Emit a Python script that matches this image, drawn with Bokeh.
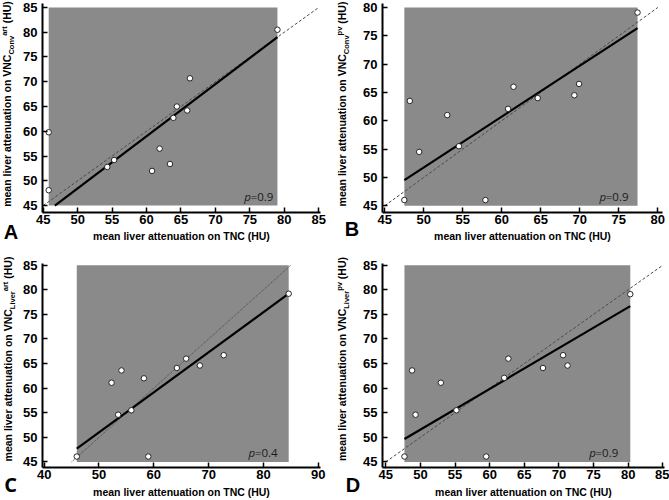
from bokeh.embed import file_html
from bokeh.layouts import column, row
from bokeh.models import Div, FixedTicker, Label, Range1d
from bokeh.plotting import figure
from bokeh.resources import INLINE

# ---- data: mean liver attenuation (HU), TNC vs. virtual non-contrast ----
tnc_a = [45.8, 45.8, 54.3, 55.3, 60.8, 61.9, 63.4, 63.9, 64.4, 65.9, 66.3, 79.0]
vnc_a = [59.8, 48.1, 52.8, 54.2, 52.0, 56.5, 53.4, 62.7, 65.0, 64.2, 70.7, 80.5]

tnc_b = [47.5, 48.2, 49.4, 53.0, 54.5, 57.9, 60.8, 61.5, 64.6, 69.3, 69.9, 77.4]
vnc_b = [46.0, 63.5, 54.5, 61.0, 55.5, 46.0, 62.1, 66.0, 64.0, 64.5, 66.5, 79.1]

tnc_c = [45.95, 52.3, 53.5, 54.1, 55.9, 58.2, 59.0, 64.2, 65.9, 68.4, 72.75, 84.6]
vnc_c = [46.1, 61.1, 54.6, 63.6, 55.5, 62.0, 46.1, 64.1, 66.0, 64.6, 66.7, 79.2]

tnc_d = [47.7, 48.8, 49.3, 52.95, 55.2, 59.5, 62.1, 62.7, 67.7, 70.6, 71.25, 80.3]
vnc_d = [46.1, 63.6, 54.6, 61.1, 55.5, 46.1, 62.1, 66.0, 64.1, 66.7, 64.6, 79.1]

# regression lines (slope, intercept)
fit_a = (1.053, -4.17)
fit_b = (0.898, 6.86)
fit_c = (0.815, 10.25)
fit_d = (0.829, 10.11)

# p values of the linearity test
p_a, p_b, p_c, p_d = "0.9", "0.9", "0.4", "0.9"

# tick labels
xticks_a = [45, 50, 55, 60, 65, 70, 75, 80, 85]
yticks_a = [45, 50, 55, 60, 65, 70, 75, 80, 85]
xticks_b = [45, 50, 55, 60, 65, 70, 75, 80]
yticks_b = [45, 50, 55, 60, 65, 70, 75, 80]
xticks_c = [40, 50, 60, 70, 80, 90]
yticks_c = [45, 50, 55, 60, 65, 70, 75, 80, 85]
xticks_d = [45, 50, 55, 60, 65, 70, 75, 80, 85]
yticks_d = [45, 50, 55, 60, 65, 70, 75, 80, 85]

# ---- styling ----
FONT = "Liberation Sans"
BOX_GREY = "#8a8a8a"
X_TITLE = "mean liver attenuation on TNC (HU)"


def title_strip(width, sub, sup, base_x, center_y, letter, letter_xy, letter_font):
    """Strip left of a panel: rotated y title (with sub/superscript) and panel letter."""
    line_h = 12
    cx = base_x - 3.6  # centre of the rotated line box, baseline at base_x
    title = (
        f'<span style="position:absolute; left:{cx}px; top:{center_y}px; '
        f'transform:translate(-50%,-50%) rotate(-90deg); white-space:nowrap; '
        f"font-family:'{FONT}'; font-weight:bold; font-size:10.5px; "
        f'line-height:{line_h}px; color:black;">'
        f'mean liver attenuation on VNC'
        f'<span style="position:relative; top:3px; font-size:7.5px;">{sub}</span>'
        f'<span style="position:relative; top:-4px; font-size:7.5px;">{sup}</span>'
        f' (HU)</span>'
    )
    lx, ly = letter_xy
    mark = (
        f'<span style="position:absolute; left:{lx}px; top:{ly}px; '
        f'transform:translate(-50%,-50%); font-family:\'{letter_font}\'; '
        f'font-weight:bold; font-size:20px; line-height:16px; color:black;">'
        f'{letter}</span>'
    )
    html = (f'<div style="position:relative; width:{width}px; height:250px; '
            f'overflow:visible;">{title}{mark}</div>')
    return Div(text=html, width=width, height=250, margin=0,
               styles={"overflow": "visible"})


def make_panel(tnc, vnc, fit, pval, xticks, yticks, cfg):
    p = figure(width=cfg["w"], height=250, output_backend="svg",
               toolbar_location=None,
               x_range=Range1d(*cfg["xr"]), y_range=Range1d(*cfg["yr"]),
               min_border_left=cfg["bl"], min_border_right=cfg["br"],
               min_border_top=cfg["bt"], min_border_bottom=cfg["bb"])
    p.outline_line_color = None
    p.xgrid.grid_line_color = None
    p.ygrid.grid_line_color = None
    p.background_fill_color = "white"
    p.border_fill_color = "white"

    p.xaxis.ticker = FixedTicker(ticks=xticks)
    p.yaxis.ticker = FixedTicker(ticks=yticks)
    for ax in (p.xaxis[0], p.yaxis[0]):
        ax.axis_line_width = 2
        ax.axis_line_color = "black"
        ax.major_tick_in = 5
        ax.major_tick_out = 0
        ax.major_tick_line_width = 1.5
        ax.major_tick_line_color = "black"
        ax.minor_tick_line_color = None
        ax.major_label_text_font = FONT
        ax.major_label_text_font_style = "bold"
        ax.major_label_text_font_size = "13px"
        ax.major_label_text_color = "black"
    p.xaxis.major_label_standoff = 2
    p.yaxis.major_label_standoff = 5

    p.xaxis.axis_label = X_TITLE
    p.xaxis.axis_label_text_font = FONT
    p.xaxis.axis_label_text_font_style = "bold"
    p.xaxis.axis_label_text_font_size = "10.5px"
    p.xaxis.axis_label_text_color = "black"
    p.xaxis.axis_label_standoff = cfg["xs"]

    # grey box spanning the measured range
    lo, hi = yticks[0], yticks[-1]
    x_min, x_max = min(tnc), max(tnc)
    p.quad(left=x_min, right=x_max, bottom=lo, top=hi,
           fill_color=BOX_GREY, line_color=None)

    # line of identity
    p.line([lo, hi], [lo, hi], line_color="#4a4a4a", line_width=1,
           line_dash=cfg["dash"])

    # regression line inside the box
    m, b = fit
    x0 = max(x_min, (lo - b) / m)
    p.line([x0, x_max], [m * x0 + b, m * x_max + b],
           line_color="black", line_width=2.2)

    p.scatter(tnc, vnc, size=5.5, fill_color="white", line_color="#262626",
              line_width=1)

    # p value
    p.add_layout(Label(x=x_max, y=lo, x_offset=-cfg["px"], y_offset=9,
                       text="=" + pval, text_align="right",
                       text_baseline="alphabetic", text_font="Open Sans",
                       text_font_size="11.5px", text_color="#1a1a1a"))
    p.add_layout(Label(x=x_max, y=lo, x_offset=-cfg["px"] - 22.5, y_offset=9,
                       text="p", text_align="right", text_baseline="alphabetic",
                       text_font="Open Sans", text_font_style="italic",
                       text_font_size="11.5px", text_color="#1a1a1a"))
    return p


cfg_a = dict(w=314, bl=21, br=14, bt=3, bb=38, xr=(44.9, 85.25), yr=(43.6, 85.8),
             dash="3 2", px=4, xs=3)
cfg_b = dict(w=309, bl=21, br=7, bt=3, bb=38, xr=(44.7, 80.6), yr=(43.8, 80.7),
             dash="3 2", px=9, xs=3)
cfg_c = dict(w=314, bl=22, br=14, bt=13, bb=32, xr=(39.7, 90.4), yr=(43.87, 85.34),
             dash="1 1", px=11, xs=4)
cfg_d = dict(w=309, bl=21, br=5, bt=13, bb=32, xr=(44.53, 85.24), yr=(43.87, 85.34),
             dash="3 2", px=12, xs=4)

pa = make_panel(tnc_a, vnc_a, fit_a, p_a, xticks_a, yticks_a, cfg_a)
pb = make_panel(tnc_b, vnc_b, fit_b, p_b, xticks_b, yticks_b, cfg_b)
pc = make_panel(tnc_c, vnc_c, fit_c, p_c, xticks_c, yticks_c, cfg_c)
pd = make_panel(tnc_d, vnc_d, fit_d, p_d, xticks_d, yticks_d, cfg_d)

la = title_strip(20, "Conv", "art", 12, 104, "A", (11, 232), FONT)
lb = title_strip(26, "Conv", "pv", 13, 104, "B", (18, 229), FONT)
lc = title_strip(20, "Liver", "art", 13, 108.5, "C", (10.5, 235), "Open Sans")
ld = title_strip(26, "Liver", "pv", 13, 108.5, "D", (19, 235), FONT)

layout = column(row(la, pa, lb, pb, spacing=0), row(lc, pc, ld, pd, spacing=0),
                spacing=0)

open("out.html", "w").write(file_html(layout, INLINE))
